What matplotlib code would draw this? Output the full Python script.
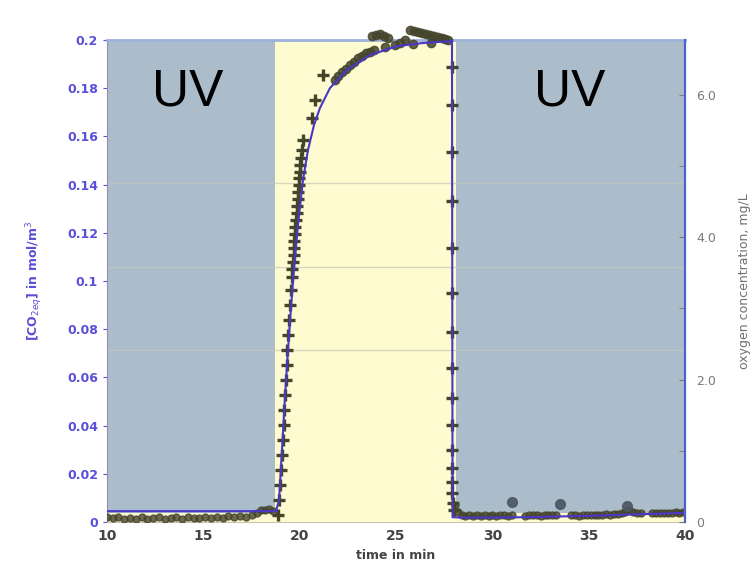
import matplotlib.pyplot as plt
import matplotlib.patches as mpatches

# ---- data (left-axis units, mol/m^3) ----
# model line
model_time = [10.0, 18.77, 18.93, 19.08, 19.29, 19.50, 19.70, 19.91, 20.17, 20.43,
              20.74, 21.05, 21.57, 22.45, 23.65, 25.05, 26.40, 27.90,
              27.93, 28.5, 32.0, 36.0, 40.0]
model_value = [0.0045, 0.0045, 0.0091, 0.0299, 0.0589, 0.0838, 0.1046, 0.1232, 0.1419, 0.1544,
               0.1647, 0.1718, 0.1801, 0.1876, 0.1938, 0.1975, 0.1988, 0.1996,
               0.0020, 0.0018, 0.0020, 0.0028, 0.0038]

# measured points: step up after UV off
rise_time = [18.87, 18.93, 18.98, 19.03, 19.08, 19.13, 19.19, 19.19, 19.24, 19.29,
             19.34, 19.34, 19.39, 19.44, 19.50, 19.55, 19.60, 19.62, 19.65, 19.68,
             19.70, 19.73, 19.76, 19.78, 19.81, 19.84, 19.86, 19.89, 19.91, 19.94,
             19.96, 19.99, 20.02, 20.07, 20.12, 20.17, 20.64, 20.79, 21.21]
rise_value = [0.0029, 0.0091, 0.0154, 0.0216, 0.0278, 0.0340, 0.0402, 0.0465, 0.0527, 0.0589,
              0.0651, 0.0714, 0.0776, 0.0838, 0.0900, 0.0963, 0.1017, 0.1048, 0.1079, 0.1108,
              0.1137, 0.1166, 0.1195, 0.1224, 0.1253, 0.1282, 0.1311, 0.1340, 0.1369, 0.1398,
              0.1427, 0.1454, 0.1481, 0.1512, 0.1544, 0.1585, 0.1676, 0.1751, 0.1855]

# plateau points
plateau_time = [21.83, 22.00, 22.20, 22.40, 22.61, 22.82, 23.03, 23.24, 23.44, 23.65,
                23.86, 23.75, 23.95, 24.17, 24.38, 24.58, 24.43, 24.95, 25.20, 25.46,
                25.72, 25.93, 26.14, 26.35, 26.55, 26.76, 26.97, 27.18, 27.38, 27.55,
                27.70, 25.90, 26.80]
plateau_value = [0.1834, 0.1850, 0.1867, 0.1882, 0.1896, 0.1911, 0.1925, 0.1936, 0.1946, 0.1952,
                 0.1959, 0.2017, 0.2022, 0.2025, 0.2015, 0.2008, 0.1971, 0.1979, 0.1990, 0.2000,
                 0.2041, 0.2038, 0.2033, 0.2030, 0.2025, 0.2020, 0.2017, 0.2012, 0.2008, 0.2004,
                 0.2000, 0.1985, 0.1990]

# step down when UV is switched on again
drop_time = [27.88, 27.88, 27.88, 27.88, 27.88, 27.88, 27.88, 27.88,
             27.88, 27.88, 27.90, 27.90, 27.92, 27.92, 27.95, 27.98]
drop_value = [0.1888, 0.1730, 0.1535, 0.1332, 0.1137, 0.0950, 0.0788, 0.0639,
              0.0515, 0.0402, 0.0299, 0.0224, 0.0166, 0.0120, 0.0079, 0.0050]

# low level during UV
base_before_time = [10.0, 10.3, 10.6, 10.9, 11.2, 11.5, 11.8, 12.1, 12.4, 12.7,
                    13.0, 13.3, 13.6, 13.9, 14.2, 14.5, 14.8, 15.1, 15.4, 15.7,
                    16.0, 16.3, 16.6, 16.9, 17.2, 17.5, 17.8, 18.0, 18.2, 18.4, 18.6]
base_before_value = [0.0020, 0.0015, 0.0022, 0.0012, 0.0018, 0.0014, 0.0020, 0.0013, 0.0017, 0.0021,
                     0.0012, 0.0016, 0.0019, 0.0014, 0.0020, 0.0015, 0.0018, 0.0022, 0.0016, 0.0020,
                     0.0018, 0.0023, 0.0020, 0.0025, 0.0022, 0.0030, 0.0038, 0.0050, 0.0048, 0.0055, 0.0045]
base_after_time = [28.05, 28.2, 28.4, 28.6, 28.8, 29.0, 29.2, 29.4, 29.6, 29.8,
                   30.0, 30.2, 30.4, 30.6, 30.8, 31.0, 31.7, 31.9, 32.1, 32.3,
                   32.5, 32.7, 32.9, 33.1, 33.3, 34.1, 34.3, 34.5, 34.7, 34.9,
                   35.1, 35.3, 35.5, 35.7, 35.9, 36.1, 36.3, 36.5, 36.7, 36.9,
                   37.1, 37.3, 37.5, 37.7, 38.3, 38.5, 38.7, 38.9, 39.1, 39.3,
                   39.5, 39.7, 39.9]
base_after_value = [0.0070, 0.0040, 0.0030, 0.0025, 0.0028, 0.0024, 0.0027, 0.0025, 0.0028, 0.0026,
                    0.0028, 0.0025, 0.0027, 0.0029, 0.0026, 0.0028, 0.0026, 0.0028, 0.0027, 0.0029,
                    0.0026, 0.0028, 0.0027, 0.0029, 0.0028, 0.0027, 0.0028, 0.0026, 0.0029, 0.0028,
                    0.0030, 0.0028, 0.0031, 0.0030, 0.0032, 0.0031, 0.0033, 0.0034, 0.0036, 0.0040,
                    0.0048, 0.0042, 0.0038, 0.0036, 0.0036, 0.0037, 0.0038, 0.0037, 0.0039, 0.0038,
                    0.0040, 0.0039, 0.0040]
blob_time = [31.0, 33.5, 37.0]
blob_value = [0.0083, 0.0075, 0.0066]

# UV phases and faint grid lines
uv_phases = [(10.0, 18.72), (28.1, 40.0)]
uv_label_x = [14.2, 34.0]
grid_levels = [0.0714, 0.1058, 0.1407]

left_ticks = [0, 0.02, 0.04, 0.06, 0.08, 0.1, 0.12, 0.14, 0.16, 0.18, 0.2]
left_labels = ['0', '0.02', '0.04', '0.06', '0.08', '0.1', '0.12', '0.14', '0.16', '0.18', '0.2']
right_ticks = [0, 2, 4, 6]
right_labels = ['0', '2.0', '4.0', '6.0']
x_ticks = [10, 15, 20, 25, 30, 35, 40]

BLUE_BG = '#abbdca'
YELLOW_BG = '#fdfbcf'
MARK = '#45452c'
LINE = '#4a36c8'

fig = plt.figure(figsize=(7.53, 5.73), dpi=100)
ax = fig.add_axes([0.142, 0.089, 0.768, 0.841])
ax.set_facecolor(YELLOW_BG)
ax.set_xlim(10, 40)
ax.set_ylim(0, 0.2)

for x0, x1 in uv_phases:
    ax.add_patch(mpatches.Rectangle((x0, 0.0037), x1 - x0, 0.2 - 0.0037,
                                    facecolor=BLUE_BG, edgecolor='none', zorder=0))
for lvl in grid_levels:
    ax.axhline(lvl, color='#c4c8bc', lw=1.0, alpha=0.7, zorder=1)

for xt in uv_label_x:
    ax.text(xt, 0.1785, 'UV', fontsize=37, family='Liberation Sans',
            ha='center', va='center', color='black', zorder=5)

# measured oxygen
ax.plot(base_before_time, base_before_value, 'o', color=MARK, ms=5, alpha=0.8, zorder=3)
ax.plot(base_after_time, base_after_value, 'o', color=MARK, ms=5, alpha=0.8, zorder=3)
ax.plot(blob_time, blob_value, 'o', color='#4a5560', ms=7, alpha=0.9, zorder=3)
ax.plot(rise_time, rise_value, '+', color=MARK, ms=9, mew=2.4, zorder=3, clip_on=False)
ax.plot(plateau_time, plateau_value, 'o', color=MARK, ms=6, alpha=0.85, zorder=3, clip_on=False)
ax.plot(drop_time, drop_value, '+', color=MARK, ms=9, mew=2.4, zorder=3)

# model
ax.plot(model_time, model_value, color=LINE, lw=1.5, zorder=4)

ax.set_yticks(left_ticks)
ax.set_yticklabels(left_labels)
ax.set_xticks(x_ticks)
ax.tick_params(axis='y', colors='#5a50d8', labelsize=9, length=3, width=0.8)
ax.tick_params(axis='x', colors='#444444', labelsize=10, length=0, pad=5)
for lab in ax.get_yticklabels():
    lab.set_fontweight('bold')
for lab in ax.get_xticklabels():
    lab.set_fontweight('bold')
ax.set_ylabel(r'[CO$_{2eq}$] in mol/m$^3$', color='#5a50d8', fontsize=9,
              fontweight='bold', labelpad=16)
ax.set_xlabel('time in min', color='#444444', fontsize=9, fontweight='bold', labelpad=4)

ax.spines['top'].set_color('#9cb2dc')
ax.spines['top'].set_linewidth(2)
ax.spines['left'].set_color('#9a88b8')
ax.spines['bottom'].set_color('#c8c4b0')
ax.spines['right'].set_visible(False)

ax2 = ax.twinx()
ax2.set_ylim(0, 6.77)
ax2.set_yticks(right_ticks)
ax2.set_yticklabels(right_labels)
ax2.set_yticks([1, 3, 5], minor=True)
ax2.tick_params(axis='y', which='both', direction='in', colors='#7a7a7a',
                labelsize=9, length=4, pad=8)
ax2.set_ylabel('oxygen concentration, mg/L', color='#707070', fontsize=9, labelpad=16)
ax2.spines['right'].set_color('#5060c8')
ax2.spines['right'].set_linewidth(1.6)
for s in ['top', 'left', 'bottom']:
    ax2.spines[s].set_visible(False)

fig.savefig('out.png', dpi=100)
